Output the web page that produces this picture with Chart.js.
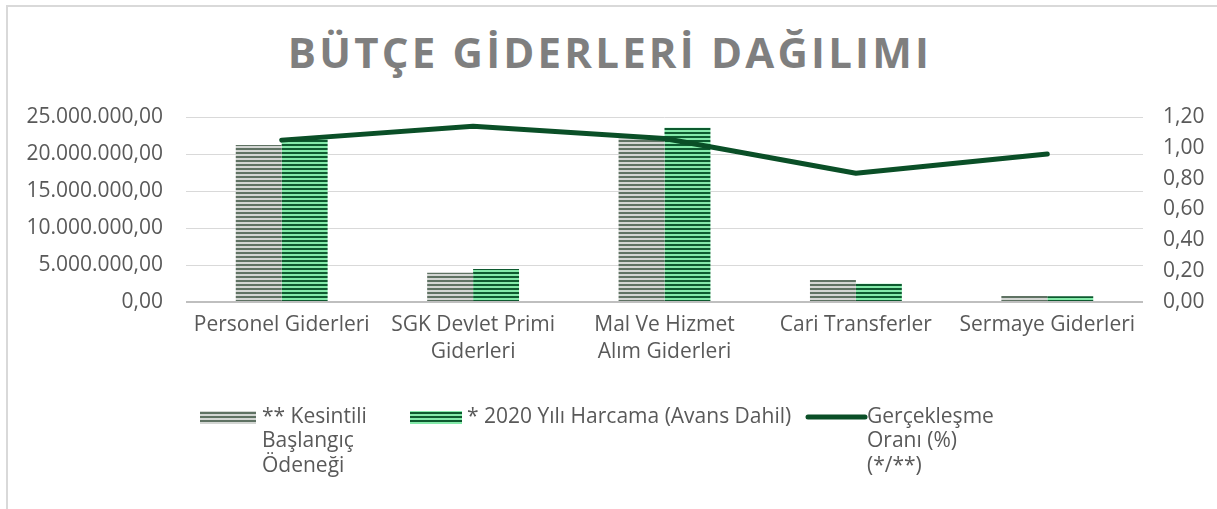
<!DOCTYPE html>
<html><head><meta charset="utf-8">
<script src="https://cdn.jsdelivr.net/npm/chart.js@4.4.0/dist/chart.umd.min.js"></script>
<style>
html,body{margin:0;padding:0;background:#fff;}
#wrap{position:relative;width:1217px;height:509px;overflow:hidden;background:#fff;}
#frame{position:absolute;left:6px;top:5px;width:1300px;height:600px;border-left:2px solid #d9d9d9;border-top:2px solid #d9d9d9;}
#title{position:absolute;left:0;top:23px;width:1217px;text-align:center;font:bold 42px 'Open Sans';color:#7f7f7f;letter-spacing:3.2px;white-space:nowrap;padding-left:3px;box-sizing:border-box;}
canvas{position:absolute;left:0;top:0;}
</style></head><body>
<div id="wrap"><div id="frame"></div><div id="title">BÜTÇE GİDERLERİ DAĞILIMI</div><canvas id="c" width="1217" height="509"></canvas></div>
<script>
const categories = ['Personel Giderleri', ['SGK Devlet Primi', 'Giderleri'], ['Mal Ve Hizmet', 'Alım Giderleri'], 'Cari Transferler', 'Sermaye Giderleri'];
const baslangicOdenegi = [21200000, 3960000, 22200000, 2970000, 800000];
const harcama2020 = [22000000, 4460000, 23550000, 2470000, 770000];
const gerceklesmeOrani = [1.05, 1.14, 1.06, 0.835, 0.96];
const leftTicks = [0, 5000000, 10000000, 15000000, 20000000, 25000000];
const rightTicks = [0, 0.2, 0.4, 0.6, 0.8, 1.0, 1.2];
const legendLabels = [
  ['** Kesintili', 'Başlangıç', 'Ödeneği'],
  ['* 2020 Yılı Harcama (Avans Dahil)'],
  ['Gerçekleşme', 'Oranı (%)', '(*/**)']
];

function trNum(v) {
  const f = Math.abs(v).toFixed(2).split('.');
  const i = f[0].replace(/\B(?=(\d{3})+(?!\d))/g, '.');
  return (v < 0 ? '-' : '') + i + ',' + f[1];
}

const canvas = document.getElementById('c');
const ctx0 = canvas.getContext('2d');
function stripes(dark, light) {
  const c = document.createElement('canvas');
  c.width = 4; c.height = 4;
  const g = c.getContext('2d');
  g.fillStyle = light; g.fillRect(0, 0, 4, 4);
  g.fillStyle = dark; g.fillRect(0, 0, 4, 2);
  return ctx0.createPattern(c, 'repeat');
}
const grayPat = stripes('#5f7263', '#d3d6d3');
const greenPat = stripes('#0d5a2f', '#84eaaa');
const lineColor = '#0a4f27';
const textColor = '#595959';
const FONT = "'Open Sans'";
const FS = 21;

const legendPlugin = {
  id: 'customLegend',
  afterDraw(chart) {
    const ctx = chart.ctx;
    ctx.save();
    ctx.font = FS + 'px ' + FONT;
    ctx.fillStyle = textColor;
    ctx.textBaseline = 'middle';
    ctx.textAlign = 'left';
    const rowY = 417, lh = 24.5;
    const items = [
      {x: 200, w: 56, tx: 262, kind: 'bar', fill: grayPat},
      {x: 410, w: 52, tx: 467, kind: 'bar', fill: greenPat},
      {x: 808, w: 57, tx: 867, kind: 'line'}
    ];
    items.forEach((it, k) => {
      if (it.kind === 'bar') {
        ctx.fillStyle = it.fill;
        ctx.fillRect(it.x, rowY - 6, it.w, 13);
      } else {
        ctx.strokeStyle = lineColor; ctx.lineWidth = 5; ctx.lineCap = 'round';
        ctx.beginPath(); ctx.moveTo(it.x, rowY); ctx.lineTo(it.x + it.w, rowY); ctx.stroke();
      }
      ctx.fillStyle = textColor;
      legendLabels[k].forEach((t, j) => ctx.fillText(t, it.tx, rowY + j * lh));
    });
    ctx.restore();
  }
};

new Chart(canvas, {
  data: {
    labels: categories,
    datasets: [
      {type: 'line', label: legendLabels[2].join(' '), data: gerceklesmeOrani, yAxisID: 'y1', order: 0,
       borderColor: lineColor, borderWidth: 5, pointRadius: 0, tension: 0,
       borderCapStyle: 'round', borderJoinStyle: 'round', fill: false},
      {type: 'bar', label: legendLabels[0].join(' '), data: baslangicOdenegi, yAxisID: 'y', order: 1,
       backgroundColor: grayPat, categoryPercentage: 0.48, barPercentage: 1.0},
      {type: 'bar', label: legendLabels[1].join(' '), data: harcama2020, yAxisID: 'y', order: 2,
       backgroundColor: greenPat, categoryPercentage: 0.48, barPercentage: 1.0}
    ]
  },
  options: {
    responsive: false,
    animation: false,
    layout: {padding: {left: 0, right: 0, top: 117, bottom: 127}},
    plugins: {legend: {display: false}, tooltip: {enabled: false}, title: {display: false}},
    scales: {
      x: {
        grid: {display: false, drawTicks: false}, border: {display: false},
        ticks: {color: textColor, font: {family: FONT, size: FS, lineHeight: '27px'}, padding: 10, maxRotation: 0, autoSkip: false},
        afterFit(s) { s.height = 80; }
      },
      y: {
        position: 'left', min: 0, max: 25000000,
        afterBuildTicks(s) { s.ticks = leftTicks.map(v => ({value: v})); },
        grid: {drawTicks: false, color: c => c.tick && c.tick.value === 0 ? '#bfbfbf' : '#d9d9d9', lineWidth: c => c.tick && c.tick.value === 0 ? 2 : 1},
        border: {display: false},
        ticks: {color: textColor, font: {family: FONT, size: FS}, padding: 23, callback: v => trNum(v)},
        afterFit(s) { s.width = 186; }
      },
      y1: {
        position: 'right', min: 0, max: 1.2,
        afterBuildTicks(s) { s.ticks = rightTicks.map(v => ({value: v})); },
        grid: {display: false, drawTicks: false}, border: {display: false},
        ticks: {color: textColor, font: {family: FONT, size: FS}, padding: 20, callback: v => trNum(v)},
        afterFit(s) { s.width = 74; }
      }
    }
  },
  plugins: [legendPlugin]
});
</script>
</body></html>
